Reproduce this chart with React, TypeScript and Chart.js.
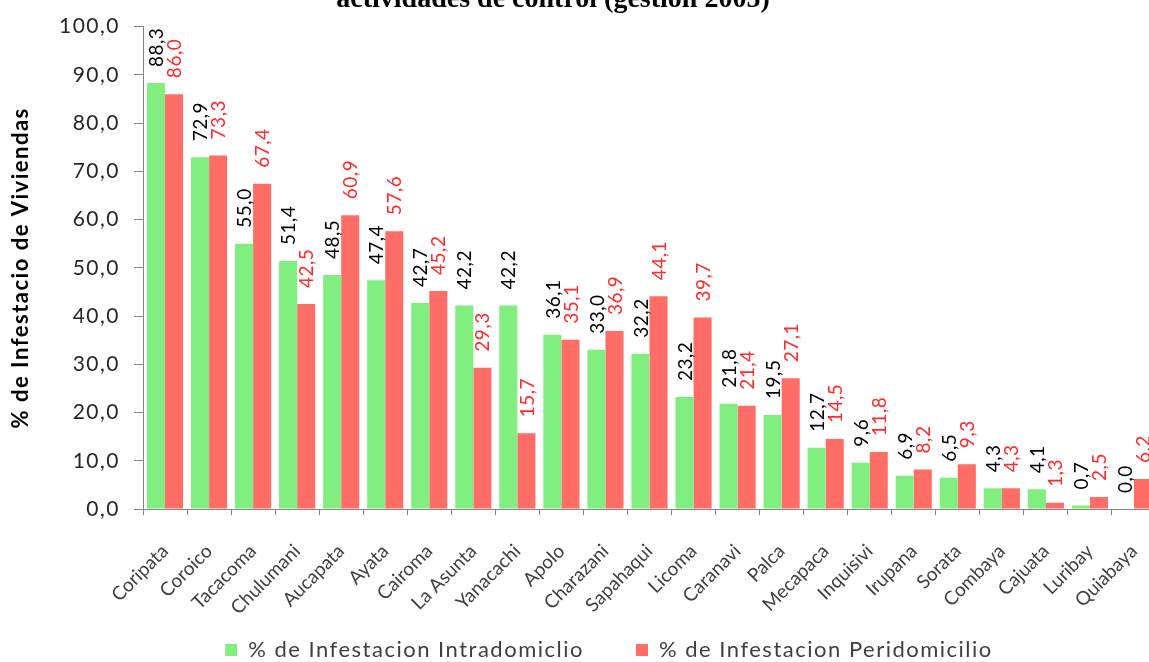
import React, { useEffect, useRef } from 'react';
import { Chart, registerables } from 'chart.js';

Chart.register(...registerables);

const categories = [
  'Coripata', 'Coroico', 'Tacacoma', 'Chulumani', 'Aucapata', 'Ayata', 'Cairoma',
  'La Asunta', 'Yanacachi', 'Apolo', 'Charazani', 'Sapahaqui', 'Licoma', 'Caranavi',
  'Palca', 'Mecapaca', 'Inquisivi', 'Irupana', 'Sorata', 'Combaya', 'Cajuata',
  'Luribay', 'Quiabaya',
];

const intraValues = [
  88.3, 72.9, 55.0, 51.4, 48.5, 47.4, 42.7, 42.2, 42.2, 36.1, 33.0, 32.2,
  23.2, 21.8, 19.5, 12.7, 9.6, 6.9, 6.5, 4.3, 4.1, 0.7, 0.0,
];

const periValues = [
  86.0, 73.3, 67.4, 42.5, 60.9, 57.6, 45.2, 29.3, 15.7, 35.1, 36.9, 44.1,
  39.7, 21.4, 27.1, 14.5, 11.8, 8.2, 9.3, 4.3, 1.3, 2.5, 6.2,
];

const seriesNames = ['% de Infestacion Intradomiclio', '% de Infestacion Peridomicilio'];
const titleText = 'actividades de control (gestion 2005)';
const yAxisTitle = '% de Infestacio de Viviendas';

const barColors = ['#80EF80', '#FF6E66'];
const labelColors = ['#000000', '#FF2A2A'];

const fmt = (v: number) => v.toFixed(1).replace('.', ',');

const spacingPlugin = {
  id: 'wideText',
  beforeUpdate(chart: any) {
    (chart.ctx as any).letterSpacing = '1.5px';
  },
  beforeDraw(chart: any) {
    (chart.ctx as any).letterSpacing = '1.5px';
  },
  afterLayout(chart: any) {
    if (chart.legend) {
      chart.legend.left += 31;
      chart.legend.right += 31;
      chart.legend.top -= 32;
      chart.legend.bottom -= 32;
    }
    const sx = chart.scales.x;
    if (sx && !sx.__patched) {
      const orig = sx.drawLabels.bind(sx);
      sx.drawLabels = (area: any) => {
        const c = chart.ctx as any;
        c.letterSpacing = '0px';
        orig(area);
        c.letterSpacing = '1.5px';
      };
      sx.__patched = true;
    }
  },
};

const barLabelPlugin = {
  id: 'barLabels',
  afterDatasetsDraw(chart: any) {
    const ctx = chart.ctx;
    chart.data.datasets.forEach((ds: any, i: number) => {
      const meta = chart.getDatasetMeta(i);
      meta.data.forEach((bar: any, j: number) => {
        const v = ds.data[j] as number;
        ctx.save();
        (ctx as any).letterSpacing = '0.5px';
        ctx.translate(bar.x + 1, bar.y - 16);
        ctx.rotate(-Math.PI / 2);
        ctx.font = '19px Lato';
        ctx.fillStyle = labelColors[i];
        ctx.textAlign = 'left';
        ctx.textBaseline = 'middle';
        ctx.fillText(fmt(v), 0, 0);
        ctx.restore();
      });
    });
  },
};

const titlePlugin = {
  id: 'cutTitle',
  afterDraw(chart: any) {
    const ctx = chart.ctx;
    ctx.save();
    (ctx as any).letterSpacing = '0px';
    ctx.font = 'bold 28px "Liberation Serif"';
    ctx.fillStyle = '#000000';
    ctx.textAlign = 'center';
    ctx.textBaseline = 'alphabetic';
    ctx.fillText(titleText, 553, 7);
    ctx.restore();
  },
};

export default function App() {
  const canvasRef = useRef<HTMLCanvasElement | null>(null);

  useEffect(() => {
    if (!canvasRef.current) return;
    const chart = new Chart(canvasRef.current, {
      type: 'bar',
      data: {
        labels: categories,
        datasets: [
          {
            label: seriesNames[0],
            data: intraValues,
            backgroundColor: barColors[0],
            categoryPercentage: 0.82,
            barPercentage: 1,
          },
          {
            label: seriesNames[1],
            data: periValues,
            backgroundColor: barColors[1],
            categoryPercentage: 0.82,
            barPercentage: 1,
          },
        ],
      },
      options: {
        animation: false,
        responsive: false,
        maintainAspectRatio: false,
        layout: { padding: { top: 25, right: 9, bottom: 0, left: 0 } },
        plugins: {
          tooltip: { enabled: false },
          title: { display: false },
          legend: {
            position: 'bottom',
            labels: {
              boxWidth: 12,
              boxHeight: 12,
              padding: 52,
              color: '#404040',
              font: { family: 'Lato', size: 22 },
            },
          },
        },
        scales: {
          x: {
            grid: {
              offset: true,
              drawOnChartArea: false,
              drawTicks: true,
              tickLength: 6,
              color: '#868686',
            },
            border: { display: true, color: '#868686' },
            ticks: {
              autoSkip: false,
              minRotation: 45,
              maxRotation: 45,
              padding: 25,
              color: '#404040',
              font: { family: 'Lato', size: 19 },
            },
            afterFit: (scale: any) => {
              scale.height = 110;
              scale.paddingLeft = 0;
              scale.paddingRight = 0;
            },
          },
          y: {
            min: 0,
            max: 100,
            grid: {
              drawOnChartArea: false,
              drawTicks: true,
              tickLength: 9,
              color: '#868686',
            },
            border: { display: true, color: '#868686' },
            ticks: {
              stepSize: 10,
              padding: 14,
              color: '#262626',
              font: { family: 'Lato', size: 21 },
              callback: (v: any) => fmt(Number(v)),
            },
            title: {
              display: true,
              text: yAxisTitle,
              color: '#000000',
              font: { family: 'Lato', size: 22, weight: 'bold' },
              padding: { top: 8, bottom: 0 },
            },
            afterFit: (scale: any) => {
              scale.width = 143;
            },
          },
        },
      },
      plugins: [spacingPlugin, barLabelPlugin, titlePlugin],
    });
    return () => chart.destroy();
  }, []);

  return (
    <div
      style={{
        position: 'fixed',
        left: 0,
        top: 0,
        width: 1149,
        height: 662,
        overflow: 'hidden',
        background: '#ffffff',
      }}
    >
      <canvas ref={canvasRef} width={1165} height={703} style={{ display: 'block' }} />
    </div>
  );
}
